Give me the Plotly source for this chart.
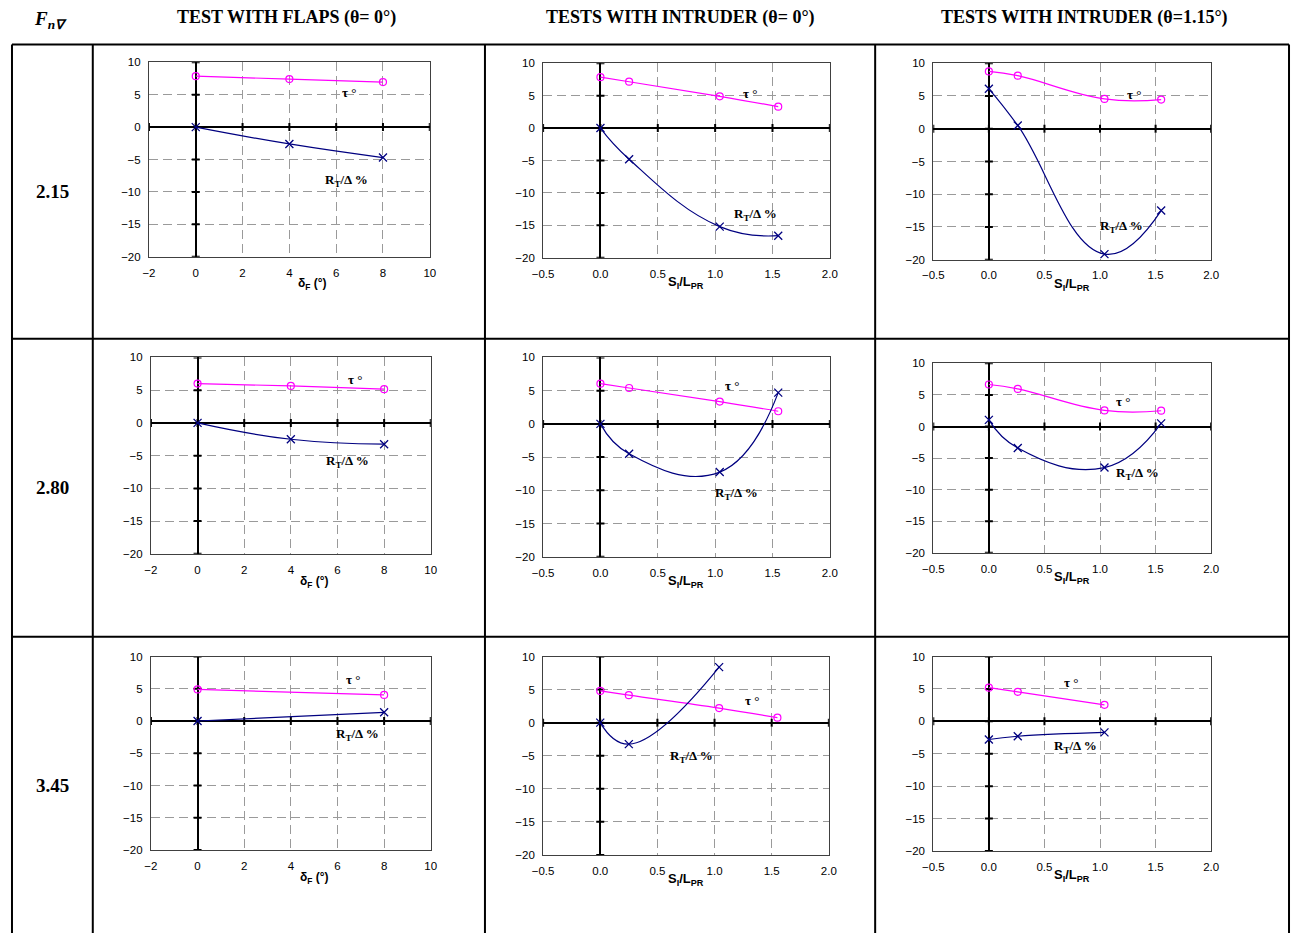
import plotly.graph_objects as go

# The page adds an 8px body margin; the figure is sized so that
# figure + margins exactly fills the 1314x949 window.
PAGE_W, PAGE_H = 1314, 949
OFF = 8
W, H = PAGE_W - 2 * OFF, PAGE_H - 2 * OFF

# ---------------- data ----------------
row_labels = ["2.15", "2.80", "3.45"]
col_titles = ["TEST WITH FLAPS (θ= 0°)", "TESTS WITH INTRUDER (θ= 0°)", "TESTS WITH INTRUDER (θ=1.15°)"]

flap_x_ticks = [-2, 0, 2, 4, 6, 8, 10]
si_x_ticks = [-0.5, 0.0, 0.5, 1.0, 1.5, 2.0]
y_ticks = [-20, -15, -10, -5, 0, 5, 10]

# Fn = 2.15
p11_x = [0, 4, 8]
p11_tau = [7.85, 7.4, 6.95]
p11_rt = [0.0, -2.6, -4.7]

p12_x = [0.0, 0.25, 1.04, 1.55]
p12_tau = [7.85, 7.15, 4.9, 3.3]
p12_rt = [0.0, -4.8, -15.2, -16.6]

p13_x = [0.0, 0.26, 1.04, 1.55]
p13_tau = [8.75, 8.1, 4.55, 4.45]
p13_rt = [6.1, 0.5, -19.15, -12.5]

# Fn = 2.80
p21_x = [0, 4, 8]
p21_tau = [6.0, 5.65, 5.15]
p21_rt = [0.0, -2.5, -3.25]

p22_x = [0.0, 0.25, 1.04, 1.55]
p22_tau = [6.05, 5.4, 3.35, 1.9]
p22_rt = [0.0, -4.5, -7.25, 4.7]

p23_x = [0.0, 0.26, 1.04, 1.55]
p23_tau = [6.65, 5.95, 2.55, 2.5]
p23_rt = [1.05, -3.4, -6.5, 0.5]

# Fn = 3.45
p31_x = [0, 8]
p31_tau = [4.9, 4.05]
p31_rt = [0.0, 1.35]

p32_x_tau = [0.0, 0.25, 1.04, 1.55]
p32_tau = [4.8, 4.15, 2.2, 0.75]
p32_x_rt = [0.0, 0.25, 1.04]
p32_rt = [0.0, -3.25, 8.4]

p33_x = [0.0, 0.26, 1.04]
p33_tau = [5.2, 4.55, 2.55]
p33_rt = [-2.8, -2.3, -1.7]

panels = [
    # (x_tau, tau, x_rt, rt, kind, tau_label_pos, rt_label_pos)
    (p11_x, p11_tau, p11_x, p11_rt, "flap", (6.55, 5.3), (6.45, -8.2)),
    (p12_x, p12_tau, p12_x, p12_rt, "si", (1.30, 5.3), (1.35, -13.4)),
    (p13_x, p13_tau, p13_x, p13_rt, "si", (1.31, 5.2), (1.19, -15.0)),
    (p21_x, p21_tau, p21_x, p21_rt, "flap", (6.75, 6.6), (6.45, -5.9)),
    (p22_x, p22_tau, p22_x, p22_rt, "si", (1.15, 5.8), (1.19, -10.4)),
    (p23_x, p23_tau, p23_x, p23_rt, "si", (1.21, 4.0), (1.34, -7.5)),
    (p31_x, p31_tau, p31_x, p31_rt, "flap", (6.65, 6.4), (6.85, -2.1)),
    (p32_x_tau, p32_tau, p32_x_rt, p32_rt, "si", (1.33, 3.3), (0.80, -5.1)),
    (p33_x, p33_tau, p33_x, p33_rt, "si", (0.74, 5.95), (0.78, -3.9)),
]

# ---------------- layout geometry (page pixels) ----------------
plot_boxes = [
    (148, 433, 65, 262), (548, 839, 66, 263), (944, 1226, 66, 265),
    (150, 434, 364, 563), (548, 839, 364, 566), (944, 1226, 370, 562),
    (150, 434, 667, 863), (548, 838, 667, 868), (944, 1226, 667, 864),
]

def px(x):
    return (x - OFF) / W

def py(y):
    return 1 - (y - OFF) / H

TAU_COLOR = "#FF00FF"
RT_COLOR = "#000080"
SERIF = "Liberation Serif, Times New Roman, serif"
SANS = "Liberation Sans, Arial, sans-serif"

fig = go.Figure()
shapes = []
annotations = []
layout_axes = {}

for i, (box, panel) in enumerate(zip(plot_boxes, panels)):
    n = i + 1
    xa = "x" if n == 1 else f"x{n}"
    ya = "y" if n == 1 else f"y{n}"
    xkey = "xaxis" if n == 1 else f"xaxis{n}"
    ykey = "yaxis" if n == 1 else f"yaxis{n}"
    x0, x1, y0, y1 = box
    x_tau, tau, x_rt, rt, kind, tau_pos, rt_pos = panel

    if kind == "flap":
        xticks = flap_x_ticks
        xfmt = "d"
    else:
        xticks = si_x_ticks
        xfmt = ".1f"

    common = dict(
        showline=True, mirror=True, linecolor="#404040", linewidth=1,
        showgrid=True, gridcolor="#9A9A9A", gridwidth=1, griddash="9px,5px",
        zeroline=True, zerolinecolor="black", zerolinewidth=2,
        ticks="", tickfont=dict(family=SANS, size=11.5, color="black"),
        fixedrange=True, ticklabelstandoff=5,
    )
    layout_axes[xkey] = dict(
        common, domain=[px(x0), px(x1)], anchor=ya,
        range=[xticks[0], xticks[-1]], tickvals=xticks, tickformat=xfmt,
    )
    layout_axes[ykey] = dict(
        common, domain=[py(y1), py(y0)], anchor=xa,
        range=[y_ticks[0], y_ticks[-1]], tickvals=y_ticks,
    )

    fig.add_trace(go.Scatter(
        x=x_tau, y=tau, xaxis=xa, yaxis=ya, mode="lines+markers",
        line=dict(color=TAU_COLOR, width=1.2, shape="spline", smoothing=1.2),
        marker=dict(symbol="circle-open", size=7, color=TAU_COLOR, line=dict(width=1.2)),
        showlegend=False, hoverinfo="skip",
    ))
    fig.add_trace(go.Scatter(
        x=x_rt, y=rt, xaxis=xa, yaxis=ya, mode="lines+markers",
        line=dict(color=RT_COLOR, width=1.2, shape="spline", smoothing=1.3),
        marker=dict(symbol="x-thin", size=8, color=RT_COLOR, line=dict(width=1.3, color=RT_COLOR)),
        showlegend=False, hoverinfo="skip",
    ))

    # cross tick marks on the zero axes
    for v in y_ticks:
        shapes.append(dict(type="line", xref=xa, yref=ya, xsizemode="pixel", xanchor=0,
                           x0=-4, x1=4, y0=v, y1=v, layer="between",
                           line=dict(color="black", width=2)))
    for v in xticks:
        shapes.append(dict(type="line", xref=xa, yref=ya, ysizemode="pixel", yanchor=0,
                           y0=-4, y1=4, x0=v, x1=v, layer="between",
                           line=dict(color="black", width=2)))

    # series labels
    annotations.append(dict(xref=xa, yref=ya, x=tau_pos[0], y=tau_pos[1], showarrow=False,
                            xanchor="center", yanchor="middle",
                            text="<b>τ</b> °", font=dict(family=SERIF, size=13, color="black")))
    annotations.append(dict(xref=xa, yref=ya, x=rt_pos[0], y=rt_pos[1], showarrow=False,
                            xanchor="center", yanchor="middle",
                            text="<b>R<sub>T</sub>/Δ %</b>", font=dict(family=SERIF, size=13, color="black")))

    # axis titles
    if kind == "flap":
        annotations.append(dict(xref=xa, yref="paper", x=5, y=py(y1 + 28), yanchor="middle",
                                xanchor="center", showarrow=False, text="<b>δ<sub>F</sub> (°)</b>",
                                font=dict(family=SANS, size=12, color="black")))
    else:
        annotations.append(dict(xref=xa, yref="paper", x=0.75, y=py(y1 + 25), yanchor="middle",
                                xanchor="center", showarrow=False, text="<b>S<sub>I</sub>/L<sub>PR</sub></b>",
                                font=dict(family=SANS, size=13, color="black")))

# ---------------- table frame ----------------
col_lines = [9, 91, 489, 885, 1305]
row_lines = [47, 345, 647, 960]
for xv in col_lines:
    shapes.append(dict(type="line", xref="paper", yref="paper",
                       x0=px(xv), x1=px(xv), y0=py(row_lines[0]), y1=py(row_lines[-1]),
                       line=dict(color="black", width=2)))
for yv in row_lines[:-1]:
    shapes.append(dict(type="line", xref="paper", yref="paper",
                       x0=px(col_lines[0]), x1=px(col_lines[-1]), y0=py(yv), y1=py(yv),
                       line=dict(color="black", width=2)))

# header texts
annotations.append(dict(xref="paper", yref="paper", x=px(48), y=py(22), showarrow=False,
                        xanchor="center", yanchor="middle",
                        text="<b><i>F<sub>n∇</sub></i></b>",
                        font=dict(family=SERIF, size=19, color="black")))
header_x = [288, 687, 1097]
for t, hx in zip(col_titles, header_x):
    annotations.append(dict(xref="paper", yref="paper", x=px(hx), y=py(20), showarrow=False,
                            xanchor="center", yanchor="middle",
                            text=f"<b>{t}</b>", font=dict(family=SERIF, size=18, color="black")))

row_y = [196, 496, 798]
for t, ry in zip(row_labels, row_y):
    annotations.append(dict(xref="paper", yref="paper", x=px(50), y=py(ry), showarrow=False,
                            xanchor="center", yanchor="middle",
                            text=f"<b>{t}</b>", font=dict(family=SERIF, size=19, color="black")))

fig.update_layout(
    width=W, height=H, margin=dict(l=0, r=0, t=0, b=0),
    paper_bgcolor="white", plot_bgcolor="white",
    shapes=shapes, annotations=annotations, showlegend=False,
    **layout_axes,
)

fig.write_html("out.html", config={"displayModeBar": False})
